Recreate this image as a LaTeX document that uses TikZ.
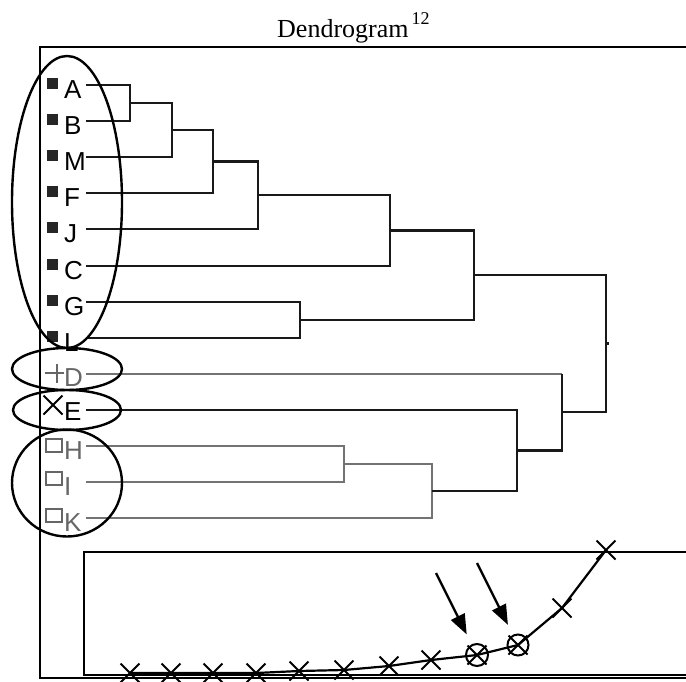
\documentclass[tikz,border=0pt]{standalone}
\usepackage{fontspec}
\setmainfont{Liberation Serif}
\newfontfamily\labelfont{Liberation Sans}
\usepackage{tikz}
\usetikzlibrary{positioning, shapes.geometric, shapes.misc, arrows.meta}

\begin{document}
\begin{tikzpicture}[x=1pt, y=-1pt,
    branch/.style={line width=2.3pt, black!90},
    faint/.style={line width=2.3pt, black!55},
    leaf/.style={font=\labelfont\fontsize{26}{26}\selectfont, inner sep=0pt, anchor=west},
    fsq/.style={fill=black!85, minimum size=11pt, inner sep=0pt},
    osq/.style={draw=black!60, line width=2pt, minimum width=16pt, minimum height=13pt, inner sep=0pt},
    ring/.style={draw, ellipse, line width=2.4pt, inner sep=0pt},
    xmark/.style={draw, cross out, line width=2pt, minimum width=17pt, minimum height=17pt, inner sep=0pt},
    pointer/.style={line width=2.4pt, shorten >=11pt, -{Triangle[length=20pt, width=15pt]}}]

    \useasboundingbox (0,0) rectangle (686,681);

    % Title
    \node[font=\fontsize{26}{28}\selectfont, anchor=base west, inner sep=0pt] (title) at (277,37)
        {Dendrogram\hspace{3pt}\raisebox{13pt}{\fontsize{18}{18}\selectfont 12}};

    % Outer frame, open on the right
    \draw[line width=2.8pt] (686,47) -- (40,47) -- (40,678) -- (686,678);

    % Leaves of the first cluster (filled squares)
    \foreach \lab/\yy in {A/85, B/121, M/157, F/193, J/229, C/266, G/302, L/338} {
        \node[fsq] (s\lab) at (52,\yy-2) {};
        \node[leaf] (\lab) at (64,\yy+5) {\lab};
        \coordinate (t\lab) at (86,\yy);
    }

    % Leaf D (plus)
    \draw[black!60, line width=2.2pt] (45,373) -- (64,373) (57,364) -- (57,383);
    \node[leaf, text=black!60] (D) at (64,378) {D};
    \coordinate (tD) at (86,374);

    % Leaf E (cross)
    \node[xmark] (sE) at (53,405) {};
    \node[leaf] (E) at (64,412) {E};
    \coordinate (tE) at (86,410);

    % Leaves H, I, K (open squares)
    \foreach \lab/\yy/\sy in {H/446/445, I/482/478, K/518/515} {
        \node[osq] (s\lab) at (54,\sy) {};
        \node[leaf, text=black!60] (\lab) at (64,\yy+5) {\lab};
        \coordinate (t\lab) at (86,\yy);
    }

    % Merge points
    \coordinate (ab) at (130,103);
    \coordinate (abm) at (172,130);
    \coordinate (abmf) at (213,161.5);
    \coordinate (abmfj) at (258,195);
    \coordinate (abmfjc) at (390,230.5);
    \coordinate (gl) at (300,320);
    \coordinate (top) at (474,275);
    \coordinate (hi) at (344,464);
    \coordinate (hik) at (432,491);
    \coordinate (ehik) at (517,450.5);
    \coordinate (dehik) at (562,412);
    \coordinate (root) at (606,343.5);

    % Branches
    \draw[branch] (tA) -| (ab) |- (tB);
    \draw[branch] (ab) -| (abm) |- (tM);
    \draw[branch] (abm) -| (abmf) |- (tF);
    \draw[branch] (abmf) -| (abmfj) |- (tJ);
    \draw[branch] (abmfj) -| (abmfjc) |- (tC);
    \draw[branch] (tG) -| (gl) |- (tL);
    \draw[branch] (abmfjc) -| (top) |- (gl);
    \draw[faint] (tH) -| (hi) |- (tI);
    \draw[faint] (hi) -| (hik) |- (tK);
    \draw[branch] (tE) -| (ehik) |- (hik);
    \draw[faint] (tD) -- (tD -| dehik);
    \draw[branch] (tD -| dehik) -- (dehik) |- (ehik);
    \draw[branch] (top) -| (root) |- (dehik);
    \draw[branch] (root) -- ++(3,0);

    % Groups
    \node[ring, minimum width=110pt, minimum height=292pt] (grpA) at (67,202) {};
    \node[ring, minimum width=110pt, minimum height=42pt] (grpD) at (67,369) {};
    \node[ring, minimum width=108pt, minimum height=40pt] (grpE) at (67,410) {};
    \node[ring, minimum width=110pt, minimum height=107pt] (grpH) at (67,483) {};

    % Inner plot box
    \draw[line width=2.8pt] (686,552) -- (84,552) -- (84,675) -- (686,675);

    % Merge distances
    \foreach \n/\px/\py in {1/130/673, 2/171/673, 3/213/673, 4/256/673, 5/299/671, 6/344/670,
                            7/389/666, 8/431/660, 9/477/655, 10/518/645, 11/562/608, 12/606/550}
        \node[xmark] (p\n) at (\px,\py) {};
    \draw[line width=2.2pt] (p1.center) \foreach \n in {2,...,12} { -- (p\n.center) };

    \node[draw, circle, line width=2pt, minimum size=22pt, inner sep=0pt] (c9) at (p9) {};
    \node[draw, circle, line width=2pt, minimum size=21pt, inner sep=0pt] (c10) at (p10) {};

    % Arrows to the two jumps
    \coordinate (a9) at (436,573);
    \coordinate (a10) at (477,563);
    \draw[pointer] (a9) -- (c9);
    \draw[pointer] (a10) -- (c10);
\end{tikzpicture}
\end{document}
